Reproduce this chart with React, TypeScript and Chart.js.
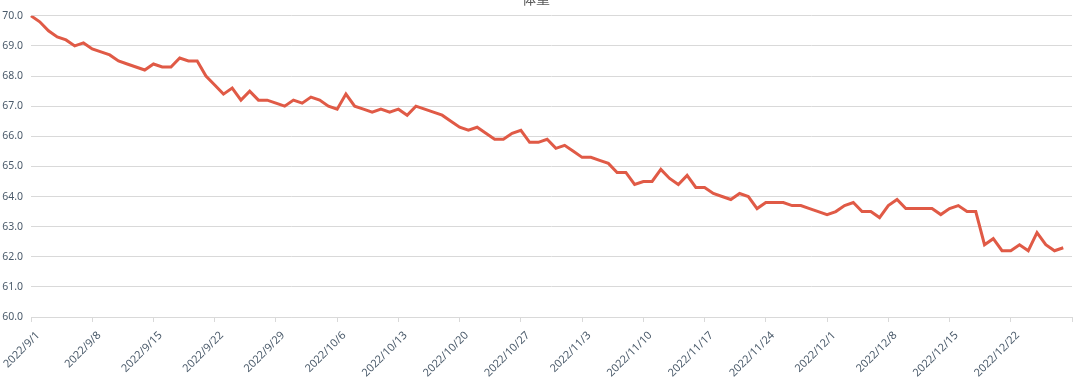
import { useEffect, useRef } from "react";
import { Chart, registerables } from "chart.js";

Chart.register(...registerables);

// Month / number of days shown on the category axis (2022/9/1 .. 2022/12/29)
const MONTH_SPANS: Array<[number, number]> = [
  [9, 30],
  [10, 31],
  [11, 30],
  [12, 29],
];
const dateLabels: string[] = [];
for (const [m, n] of MONTH_SPANS) {
  for (let d = 1; d <= n; d++) dateLabels.push(`2022/${m}/${d}`);
}

const TITLE = "体重";

// Daily weight, 2022/9/1 .. 2022/12/28
const weight: number[] = [
  70.0, 69.8, 69.5, 69.3, 69.2, 69.0, 69.1, 68.9, 68.8, 68.7,
  68.5, 68.4, 68.3, 68.2, 68.4, 68.3, 68.3, 68.6, 68.5, 68.5,
  68.0, 67.7, 67.4, 67.6, 67.2, 67.5, 67.2, 67.2, 67.1, 67.0,
  67.2, 67.1, 67.3, 67.2, 67.0, 66.9, 67.4, 67.0, 66.9, 66.8,
  66.9, 66.8, 66.9, 66.7, 67.0, 66.9, 66.8, 66.7, 66.5, 66.3,
  66.2, 66.3, 66.1, 65.9, 65.9, 66.1, 66.2, 65.8, 65.8, 65.9,
  65.6, 65.7, 65.5, 65.3, 65.3, 65.2, 65.1, 64.8, 64.8, 64.4,
  64.5, 64.5, 64.9, 64.6, 64.4, 64.7, 64.3, 64.3, 64.1, 64.0,
  63.9, 64.1, 64.0, 63.6, 63.8, 63.8, 63.8, 63.7, 63.7, 63.6,
  63.5, 63.4, 63.5, 63.7, 63.8, 63.5, 63.5, 63.3, 63.7, 63.9,
  63.6, 63.6, 63.6, 63.6, 63.4, 63.6, 63.7, 63.5, 63.5, 62.4,
  62.6, 62.2, 62.2, 62.4, 62.2, 62.8, 62.4, 62.2, 62.3,
];

const Y_MIN = 60;
const Y_MAX = 70;
const Y_STEP = 1;
const X_TICK_EVERY = 7;

export default function App() {
  const canvasRef = useRef<HTMLCanvasElement | null>(null);

  useEffect(() => {
    if (!canvasRef.current) return;
    const font = "'Noto Sans', 'Noto Sans CJK SC', sans-serif";
    const chart = new Chart(canvasRef.current, {
      type: "line",
      data: {
        labels: dateLabels,
        datasets: [
          {
            label: TITLE,
            data: weight,
            borderColor: "#E05A46",
            backgroundColor: "#E05A46",
            borderWidth: 3,
            pointRadius: 0,
            pointHoverRadius: 0,
            tension: 0,
            fill: false,
          },
        ],
      },
      options: {
        animation: false,
        responsive: true,
        maintainAspectRatio: false,
        layout: { padding: { left: 0, right: 19, top: 0, bottom: 0 } },
        plugins: {
          legend: { display: false },
          tooltip: { enabled: false },
          title: {
            display: true,
            text: TITLE,
            color: "#595959",
            font: { family: "'Noto Sans CJK SC', sans-serif", size: 14, weight: "normal" },
            padding: { top: 4, bottom: 9 },
          },
        },
        scales: {
          x: {
            type: "category",
            offset: false,
            afterBuildTicks: (scale: any) => {
              scale.ticks = scale.ticks.filter((t: any) => t.value % X_TICK_EVERY === 0);
            },
            afterFit: (scale: any) => {
              scale.height = 65;
              scale.paddingLeft = 0;
              scale.paddingRight = 0;
            },
            grid: {
              drawOnChartArea: false,
              drawTicks: true,
              tickLength: 5,
              color: "#d9d9d9",
              tickColor: "#d9d9d9",
            },
            border: { display: true, color: "#d9d9d9", width: 1 },
            ticks: {
              autoSkip: false,
              maxRotation: 45,
              minRotation: 45,
              labelOffset: 7,
              padding: 7,
              color: "#4a5a6a",
              font: { family: font, size: 11 },
              callback: (value: any) => {
                const i = Number(value);
                return i >= weight.length ? "" : dateLabels[i];
              },
            },
          },
          y: {
            min: Y_MIN,
            max: Y_MAX,
            afterFit: (scale: any) => {
              scale.width = 31;
            },
            grid: { color: "#d9d9d9", drawTicks: false, lineWidth: 1 },
            border: { display: false },
            ticks: {
              stepSize: Y_STEP,
              padding: 8,
              color: "#4a5a6a",
              font: { family: font, size: 10.5 },
              callback: (value: any) => Number(value).toFixed(1),
            },
          },
        },
      },
    });
    return () => chart.destroy();
  }, []);

  return (
    <div
      style={{
        position: "absolute",
        left: 0,
        top: -14,
        width: 1091,
        height: 396,
      }}
    >
      <canvas ref={canvasRef} />
    </div>
  );
}
